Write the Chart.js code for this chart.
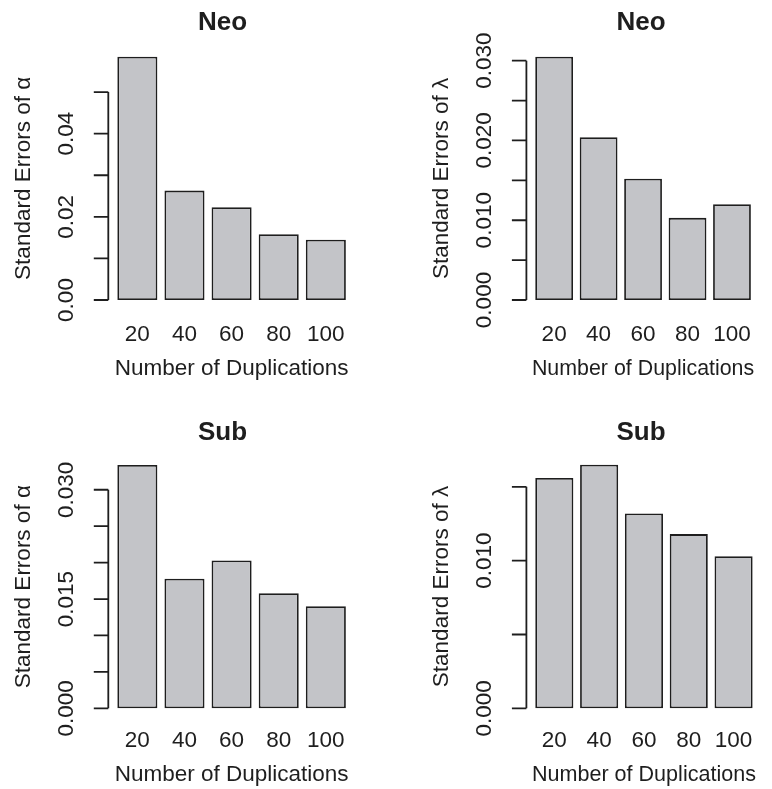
<!DOCTYPE html>
<html>
<head>
<meta charset="utf-8">
<script src="https://cdn.jsdelivr.net/npm/chart.js@4"></script>
<style>
  html, body { margin: 0; padding: 0; background: #fff; }
  #wrap { position: relative; width: 772px; height: 789px; overflow: hidden; }
  .panel { position: absolute; }
</style>
</head>
<body>
<div id="wrap">
  <canvas class="panel" id="c1" width="386" height="400" style="left:0;top:0"></canvas>
  <canvas class="panel" id="c2" width="386" height="400" style="left:386px;top:0"></canvas>
  <canvas class="panel" id="c3" width="386" height="389" style="left:0;top:400px"></canvas>
  <canvas class="panel" id="c4" width="386" height="389" style="left:386px;top:400px"></canvas>
</div>
<script>
// data
const duplications = ['20', '40', '60', '80', '100'];

const neoAlpha  = [0.0585, 0.0263, 0.0223, 0.0158, 0.0145];
const neoLambda = [0.0305, 0.0204, 0.0152, 0.0103, 0.0120];
const subAlpha  = [0.0334, 0.0178, 0.0203, 0.0158, 0.0140];
const subLambda = [0.0156, 0.0165, 0.0132, 0.0118, 0.0103];

const neoAlphaTicks  = ['0.00', '', '0.02', '', '0.04', ''];
const neoLambdaTicks = ['0.000', '', '0.010', '', '0.020', '', '0.030'];
const subAlphaTicks  = ['0.000', '', '', '0.015', '', '', '0.030'];
const subLambdaTicks = ['0.000', '', '0.010', ''];

const FONT = '"Liberation Sans", Arial, Helvetica, sans-serif';
const INK = '#1e1e1e';
const AXIS_SIZE = 22.5;
const TITLE_SIZE = 26;

Chart.defaults.font.family = FONT;
Chart.defaults.font.size = AXIS_SIZE;
Chart.defaults.color = INK;

// R style y axis: line only from first to last tick, set off from the bars
const rAxis = {
  id: 'rAxis',
  afterDraw(chart, args, opts) {
    const y = chart.scales.y;
    const ticks = y.ticks;
    const x = chart.chartArea.left - opts.gap;
    const ctx = chart.ctx;
    ctx.save();
    ctx.strokeStyle = INK;
    ctx.lineWidth = 1.8;
    ctx.beginPath();
    ctx.moveTo(x, y.getPixelForValue(ticks[0].value));
    ctx.lineTo(x, y.getPixelForValue(ticks[ticks.length - 1].value));
    ticks.forEach(t => {
      const py = y.getPixelForValue(t.value);
      ctx.moveTo(x - opts.len, py);
      ctx.lineTo(x, py);
    });
    ctx.stroke();
    ctx.restore();
  }
};

function textWidth(labels, size) {
  const ctx = document.createElement('canvas').getContext('2d');
  ctx.font = size + 'px ' + FONT;
  return Math.max(...labels.map(l => ctx.measureText(l).width));
}

function makePanel(id, g, title, yTitle, values, step, tickLabels) {
  const W = 386;
  const axisLine = AXIS_SIZE * 1.2;
  const titleLine = TITLE_SIZE * 1.2;
  const padL = 2 * g.titleX - g.right;
  const titleTop = g.titleMid - titleLine / 2;
  const widest = textWidth(tickLabels, AXIS_SIZE);

  new Chart(document.getElementById(id), {
    type: 'bar',
    data: {
      labels: duplications,
      datasets: [{
        data: values,
        backgroundColor: '#c3c4c8',
        borderColor: INK,
        borderWidth: 1.8,
        borderSkipped: false,
        categoryPercentage: 1,
        barPercentage: 0.85,
        clip: false
      }]
    },
    options: {
      responsive: false,
      animation: false,
      events: [],
      layout: {
        padding: { left: padL, right: W - g.right, top: 0, bottom: 0 }
      },
      plugins: {
        legend: { display: false },
        tooltip: { enabled: false },
        title: {
          display: true,
          text: title,
          color: INK,
          font: { size: TITLE_SIZE, weight: 'bold' },
          padding: { top: titleTop, bottom: g.top - titleLine - titleTop }
        },
        rAxis: { gap: 5.5, len: 14.5 }
      },
      scales: {
        x: {
          offset: true,
          grid: { display: false, drawTicks: false },
          border: { display: false },
          ticks: { padding: g.xLabelMid - g.bottom - axisLine / 2, autoSkip: false, maxRotation: 0 },
          title: {
            display: true,
            text: 'Number of Duplications',
            padding: { top: 0, bottom: g.H - g.xTitleMid - axisLine / 2 }
          },
          afterFit: s => { s.height = g.H - g.bottom; }
        },
        y: {
          min: 0,
          max: Math.max(...values),
          grid: { display: false, drawTicks: false },
          border: { display: false },
          ticks: {
            stepSize: step,
            includeBounds: false,
            autoSkip: false,
            minRotation: 90,
            maxRotation: 90,
            crossAlign: 'center',
            mirror: true,
            padding: -47 - widest / 2,
            callback: (v, i) => tickLabels[i]
          },
          title: {
            display: true,
            text: yTitle,
            padding: { top: (g.left - 90) - padL - axisLine / 2, bottom: 0 }
          },
          afterFit: s => { s.width = g.left - padL; }
        }
      }
    },
    plugins: [rAxis]
  });
}

const topLeft  = { H: 400, left: 113.8, right: 349.4, top: 56.7, bottom: 300, titleX: 222.5, titleMid: 23, xLabelMid: 334.3, xTitleMid: 368.5 };
const topRight = { H: 400, left: 145.9, right: 381.5, top: 56.7, bottom: 300, titleX: 255, titleMid: 23, xLabelMid: 334.3, xTitleMid: 368.5 };
const botLeft  = { H: 389, left: 113.8, right: 349.4, top: 65, bottom: 308.3, titleX: 222.5, titleMid: 32.5, xLabelMid: 341, xTitleMid: 375 };
const botRight = { H: 389, left: 145.9, right: 381.5, top: 64.7, bottom: 308.3, titleX: 255, titleMid: 32.5, xLabelMid: 341, xTitleMid: 375 };

makePanel('c1', topLeft, 'Neo', 'Standard Errors of α', neoAlpha, 0.01, neoAlphaTicks);
makePanel('c2', topRight, 'Neo', 'Standard Errors of λ', neoLambda, 0.005, neoLambdaTicks);
makePanel('c3', botLeft, 'Sub', 'Standard Errors of α', subAlpha, 0.005, subAlphaTicks);
makePanel('c4', botRight, 'Sub', 'Standard Errors of λ', subLambda, 0.005, subLambdaTicks);
</script>
</body>
</html>
